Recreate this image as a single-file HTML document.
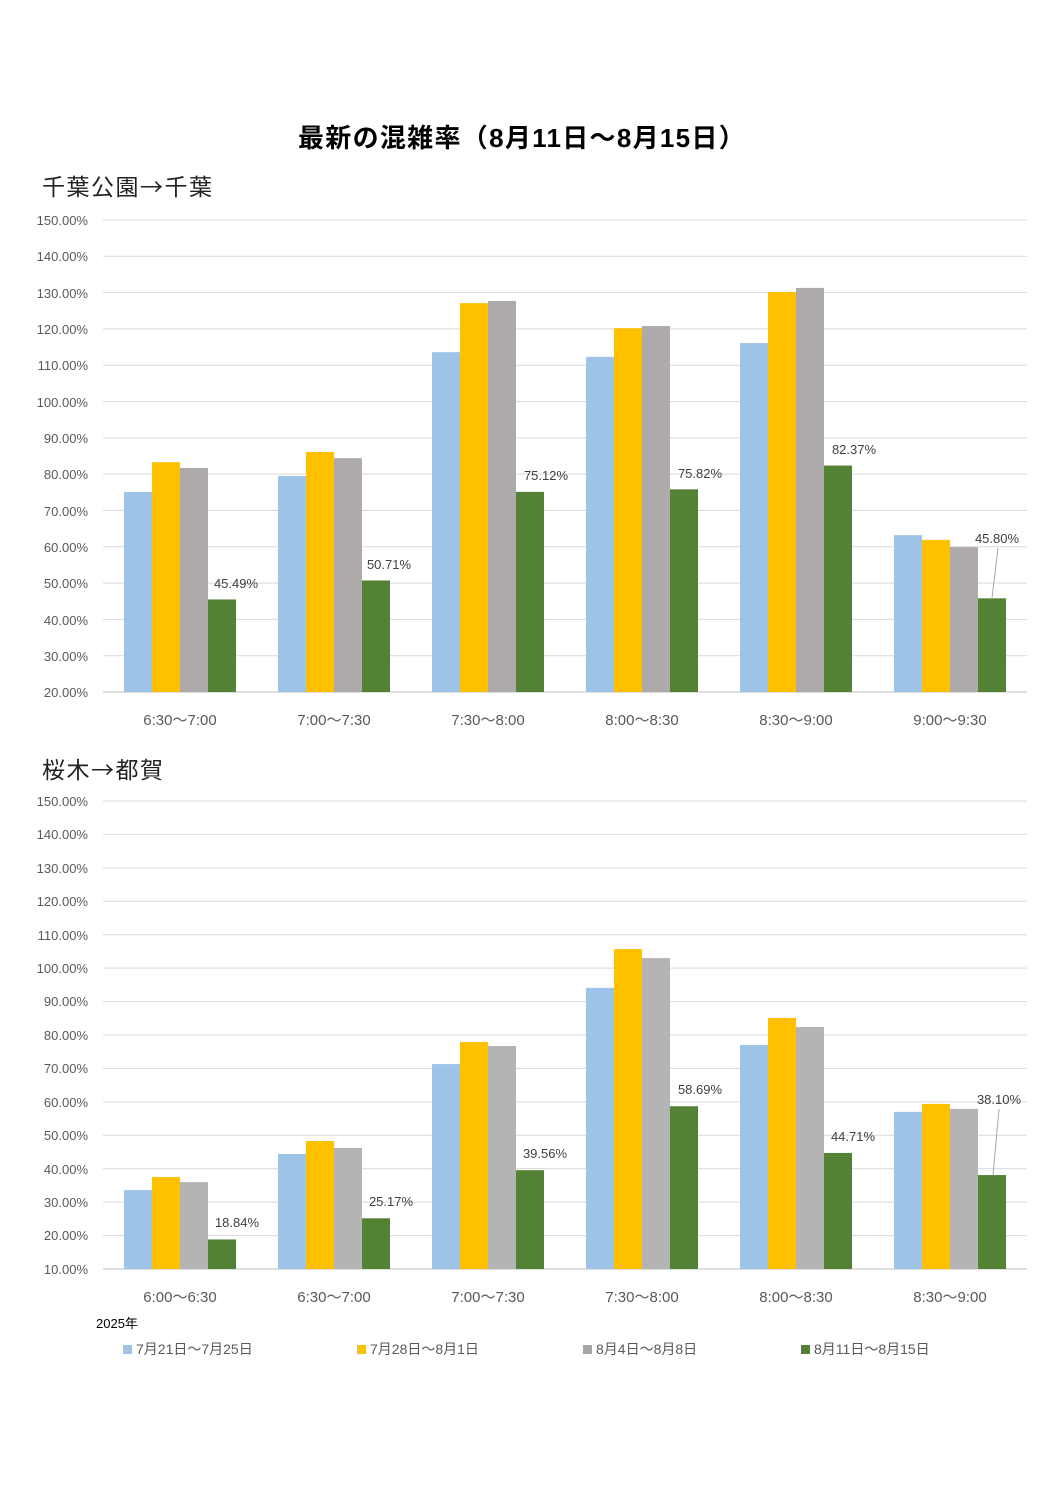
<!DOCTYPE html>
<html><head><meta charset="utf-8">
<style>
html,body{margin:0;padding:0;background:#fff;}
svg{display:block;font-family:"Liberation Sans","Noto Sans CJK JP",sans-serif;}
</style></head>
<body>
<svg id="s" width="1058" height="1496" viewBox="0 0 1058 1496" xmlns="http://www.w3.org/2000/svg">
<rect width="1058" height="1496" fill="#fff"/>
<text x="522" y="147" text-anchor="middle" font-size="26" font-weight="bold" fill="#000" letter-spacing="1.3">最新の混雑率（8月11日～8月15日）</text>
<text x="42" y="195" font-size="23" fill="#222" letter-spacing="1.5" font-family="Noto Sans CJK JP, sans-serif">千葉公園→千葉</text>
<text x="42" y="778" font-size="23" fill="#222" letter-spacing="1.5" font-family="Noto Sans CJK JP, sans-serif">桜木→都賀</text>
<g id="g1"></g>
<g id="g2"></g>
<g font-size="13" fill="#595959" text-anchor="end">
<text x="88" y="225">150.00%</text><text x="88" y="261">140.00%</text><text x="88" y="298">130.00%</text><text x="88" y="334">120.00%</text><text x="88" y="370">110.00%</text><text x="88" y="407">100.00%</text><text x="88" y="443">90.00%</text><text x="88" y="479">80.00%</text><text x="88" y="516">70.00%</text><text x="88" y="552">60.00%</text><text x="88" y="588">50.00%</text><text x="88" y="625">40.00%</text><text x="88" y="661">30.00%</text><text x="88" y="697">20.00%</text>
<text x="88" y="806">150.00%</text><text x="88" y="839">140.00%</text><text x="88" y="873">130.00%</text><text x="88" y="906">120.00%</text><text x="88" y="940">110.00%</text><text x="88" y="973">100.00%</text><text x="88" y="1006">90.00%</text><text x="88" y="1040">80.00%</text><text x="88" y="1073">70.00%</text><text x="88" y="1107">60.00%</text><text x="88" y="1140">50.00%</text><text x="88" y="1174">40.00%</text><text x="88" y="1207">30.00%</text><text x="88" y="1240">20.00%</text><text x="88" y="1274">10.00%</text>
</g>
<g font-size="15" fill="#595959" text-anchor="middle">
<text x="180" y="725">6:30～7:00</text><text x="334" y="725">7:00～7:30</text><text x="488" y="725">7:30～8:00</text><text x="642" y="725">8:00～8:30</text><text x="796" y="725">8:30～9:00</text><text x="950" y="725">9:00～9:30</text>
<text x="180" y="1302">6:00～6:30</text><text x="334" y="1302">6:30～7:00</text><text x="488" y="1302">7:00～7:30</text><text x="642" y="1302">7:30～8:00</text><text x="796" y="1302">8:00～8:30</text><text x="950" y="1302">8:30～9:00</text>
</g>
<g font-size="13" fill="#404040" text-anchor="middle">
<text x="236" y="588">45.49%</text><text x="389" y="569">50.71%</text><text x="546" y="480">75.12%</text><text x="700" y="478">75.82%</text><text x="854" y="454">82.37%</text><text x="997" y="543">45.80%</text>
<text x="237" y="1227">18.84%</text><text x="391" y="1206">25.17%</text><text x="545" y="1158">39.56%</text><text x="700" y="1094">58.69%</text><text x="853" y="1141">44.71%</text><text x="999" y="1104">38.10%</text>
</g>
<line x1="998" y1="548" x2="992" y2="598" stroke="#a6a6a6"/>
<line x1="999" y1="1109" x2="993" y2="1175" stroke="#a6a6a6"/>
<text x="96" y="1328" font-size="13" fill="#000">2025年</text>
<g font-size="14" fill="#595959">
<rect x="123" y="1345" width="9" height="9" fill="#9DC3E6"/><text x="136" y="1354">7月21日～7月25日</text>
<rect x="357" y="1345" width="9" height="9" fill="#FFC000"/><text x="370" y="1354">7月28日～8月1日</text>
<rect x="583" y="1345" width="9" height="9" fill="#A5A5A5"/><text x="596" y="1354">8月4日～8月8日</text>
<rect x="801" y="1345" width="9" height="9" fill="#548235"/><text x="814" y="1354">8月11日～8月15日</text>
</g>
</svg>
<script>
var NS="http://www.w3.org/2000/svg";
function draw(id,top,bottom,maxv,minv,grey,data){
 var g=document.getElementById(id),step=(bottom-top)/((maxv-minv)/10);
 for(var v=minv;v<=maxv;v+=10){var y=bottom-(v-minv)/10*step;var l=document.createElementNS(NS,"line");
  l.setAttribute("x1",103);l.setAttribute("x2",1027);l.setAttribute("y1",y);l.setAttribute("y2",y);
  l.setAttribute("stroke",v==minv?"#bfbfbf":"#d9d9d9");g.appendChild(l);}
 var cols=["#9DC3E6","#FFC000",grey,"#548235"];
 data.forEach(function(d,i){var x0=124+154*i;d.forEach(function(v,j){var y=bottom-(v-minv)/10*step;
  var r=document.createElementNS(NS,"rect");r.setAttribute("x",x0+28*j);r.setAttribute("y",y);
  r.setAttribute("width",28);r.setAttribute("height",bottom-y);r.setAttribute("fill",cols[j]);g.appendChild(r);});});
}
draw("g1",220,692,150,20,"#AEAAAA",[[75.1,83.3,81.7,45.49],[79.5,86.1,84.4,50.71],[113.6,127.1,127.7,75.12],[112.3,120.2,120.8,75.82],[116.1,130.2,131.3,82.37],[63.2,61.9,59.9,45.8]]);
draw("g2",801,1269,150,10,"#B4B4B4",[[33.6,37.5,36.0,18.84],[44.4,48.3,46.2,25.17],[71.3,77.9,76.7,39.56],[94.1,105.7,103.0,58.69],[77.0,85.1,82.4,44.71],[57.0,59.4,57.9,38.1]]);
</script>
</body></html>
